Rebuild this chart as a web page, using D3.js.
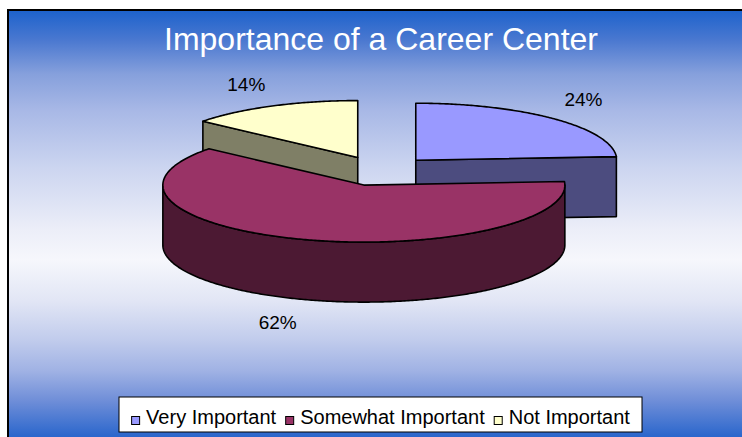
<!DOCTYPE html>
<html>
<head>
<meta charset="utf-8">
<script src="https://cdn.jsdelivr.net/npm/d3@7"></script>
<style>
  html, body { margin: 0; padding: 0; background: #ffffff; }
  svg { display: block; font-family: Arial, "Liberation Sans", sans-serif; }
</style>
</head>
<body>
<svg id="chart" width="742" height="437"></svg>
<script>
// ---- data ----
const title = "Importance of a Career Center";
const categories = ["Very Important", "Somewhat Important", "Not Important"];
const shares = [24, 62, 14];
const valueLabels = ["24%", "62%", "14%"];
const topColors = ["#9999ff", "#993366", "#ffffcc"];
const sideColors = ["#4c4c7f", "#4c1933", "#7f7f66"];

// ---- layout ----
const W = 742, H = 437;
const cx = 380, cy = 171;      // pie centre
const rx = 201, ry = 57;       // projected radii of the tilted disc
const depth = 60;              // thickness of the disc
const explode = 0.26;          // slice offset as a fraction of the radius

const svg = d3.select("#chart");

// background panel with a vertical blue-white-blue gradient
const defs = svg.append("defs");
const grad = defs.append("linearGradient")
  .attr("id", "bg").attr("gradientUnits", "userSpaceOnUse")
  .attr("x1", 0).attr("y1", 10).attr("x2", 0).attr("y2", H);
[
  [0.00, "#1c62cc"], [0.07, "#4a78d0"], [0.15, "#86a0dc"], [0.235, "#a8b8e6"],
  [0.37, "#ccd5f0"], [0.515, "#eceef8"], [0.585, "#f6f7fc"], [0.68, "#e2e6f5"],
  [0.775, "#c0cbec"], [0.845, "#a0b2e4"], [0.915, "#6f8ed8"], [1.00, "#2a66cc"]
].forEach(([o, c]) => grad.append("stop").attr("offset", o).attr("stop-color", c));

svg.append("rect")
  .attr("x", 8).attr("y", 10).attr("width", W + 20).attr("height", H + 20)
  .attr("fill", "url(#bg)").attr("stroke", "#000").attr("stroke-width", 2);

// title
svg.append("text")
  .attr("x", 381).attr("y", 50)
  .attr("text-anchor", "middle")
  .attr("fill", "#ffffff")
  .attr("font-size", 32)
  .text(title);

// ---- pie geometry ----
const data = categories.map((c, i) => ({
  name: c, value: shares[i], label: valueLabels[i], top: topColors[i], side: sideColors[i]
}));
const arcs = d3.pie().sort(null).value(d => d.value)(data);
arcs.forEach(a => { a.mid = (a.startAngle + a.endAngle) / 2; });

// unit-circle coordinates -> screen
const px = d3.scaleLinear().domain([-1, 1]).range([cx - rx, cx + rx]);
const py = d3.scaleLinear().domain([-1, 1]).range([cy + ry, cy - ry]);

function pt(s, r, a, dz) {
  return [
    px(explode * Math.sin(s.mid) + r * Math.sin(a)),
    py(explode * Math.cos(s.mid) + r * Math.cos(a)) + (dz || 0)
  ];
}
function rim(s, a0, a1, dz) {
  const n = Math.max(2, Math.ceil(Math.abs(a1 - a0) / 0.01));
  return d3.range(n + 1).map(i => pt(s, 1, a0 + (a1 - a0) * i / n, dz));
}
const line = d3.line();

const stroke = { stroke: "#000", "stroke-width": 1.6, "stroke-linejoin": "round" };
function styled(sel, fill) {
  sel.attr("fill", fill);
  Object.entries(stroke).forEach(([k, v]) => sel.attr(k, v));
  return sel;
}

// draw back slices first
const order = arcs.slice().sort((a, b) => (-Math.cos(a.mid)) - (-Math.cos(b.mid)));
const pieG = svg.append("g");

order.forEach(s => {
  const g = pieG.append("g");
  const a0 = s.startAngle, a1 = s.endAngle;
  // radial walls facing the viewer
  const walls = [];
  if (Math.sin(a0) < -1e-9) walls.push(a0);
  if (Math.sin(a1) > 1e-9) walls.push(a1);
  walls.forEach(a => {
    const poly = [pt(s, 0, 0, 0), pt(s, 1, a, 0), pt(s, 1, a, depth), pt(s, 0, 0, depth)];
    styled(g.append("path").attr("d", line(poly) + "Z"), s.data.side);
  });
  // outer curved wall on the front half
  const lo = Math.max(a0, Math.PI / 2), hi = Math.min(a1, 3 * Math.PI / 2);
  if (lo < hi) {
    const poly = rim(s, lo, hi, 0).concat(rim(s, hi, lo, depth));
    styled(g.append("path").attr("d", line(poly) + "Z"), s.data.side);
  }
  // top face
  const topPoly = [pt(s, 0, 0, 0)].concat(rim(s, a0, a1, 0));
  styled(g.append("path").attr("d", line(topPoly) + "Z"), s.data.top);
});

// value labels: anchored on the side of the slice they sit beside
const fx = 1.08, fy = 1.3, labelFont = 19;
arcs.forEach(s => {
  const sn = Math.sin(s.mid), cs = Math.cos(s.mid);
  const x = px(explode * sn + fx * sn);
  const y = py(explode * cs + fy * cs) + (cs < 0 ? depth : 0);
  svg.append("text")
    .attr("x", x).attr("y", y)
    .attr("dy", cs < 0 ? "0.72em" : "0em")
    .attr("text-anchor", sn >= 0 ? "start" : "end")
    .attr("font-size", labelFont)
    .attr("fill", "#000")
    .text(s.data.label);
});

// ---- legend ----
const legX = 119, legY = 397, legW = 523, legH = 35;
const leg = svg.append("g");
leg.append("rect")
  .attr("x", legX).attr("y", legY).attr("width", legW).attr("height", legH)
  .attr("fill", "#fff").attr("stroke", "#000").attr("stroke-width", 1);

const sq = 8, gapSq = 7, gapItem = 9, legFont = 20;
const items = leg.append("g");
let xpos = 0;
data.forEach(d => {
  const it = items.append("g").attr("transform", `translate(${xpos},0)`);
  it.append("rect")
    .attr("x", 0.5).attr("y", -sq + 0.5)
    .attr("width", sq).attr("height", sq)
    .attr("fill", d.top).attr("stroke", "#000").attr("stroke-width", 1);
  const t = it.append("text")
    .attr("x", sq + gapSq).attr("y", 0)
    .attr("font-size", legFont).attr("fill", "#000")
    .text(d.name);
  xpos += sq + gapSq + t.node().getComputedTextLength() + gapItem;
});
const totalW = xpos - gapItem;
items.attr("transform", `translate(${legX + (legW - totalW) / 2},${legY + 27})`);
</script>
</body>
</html>
